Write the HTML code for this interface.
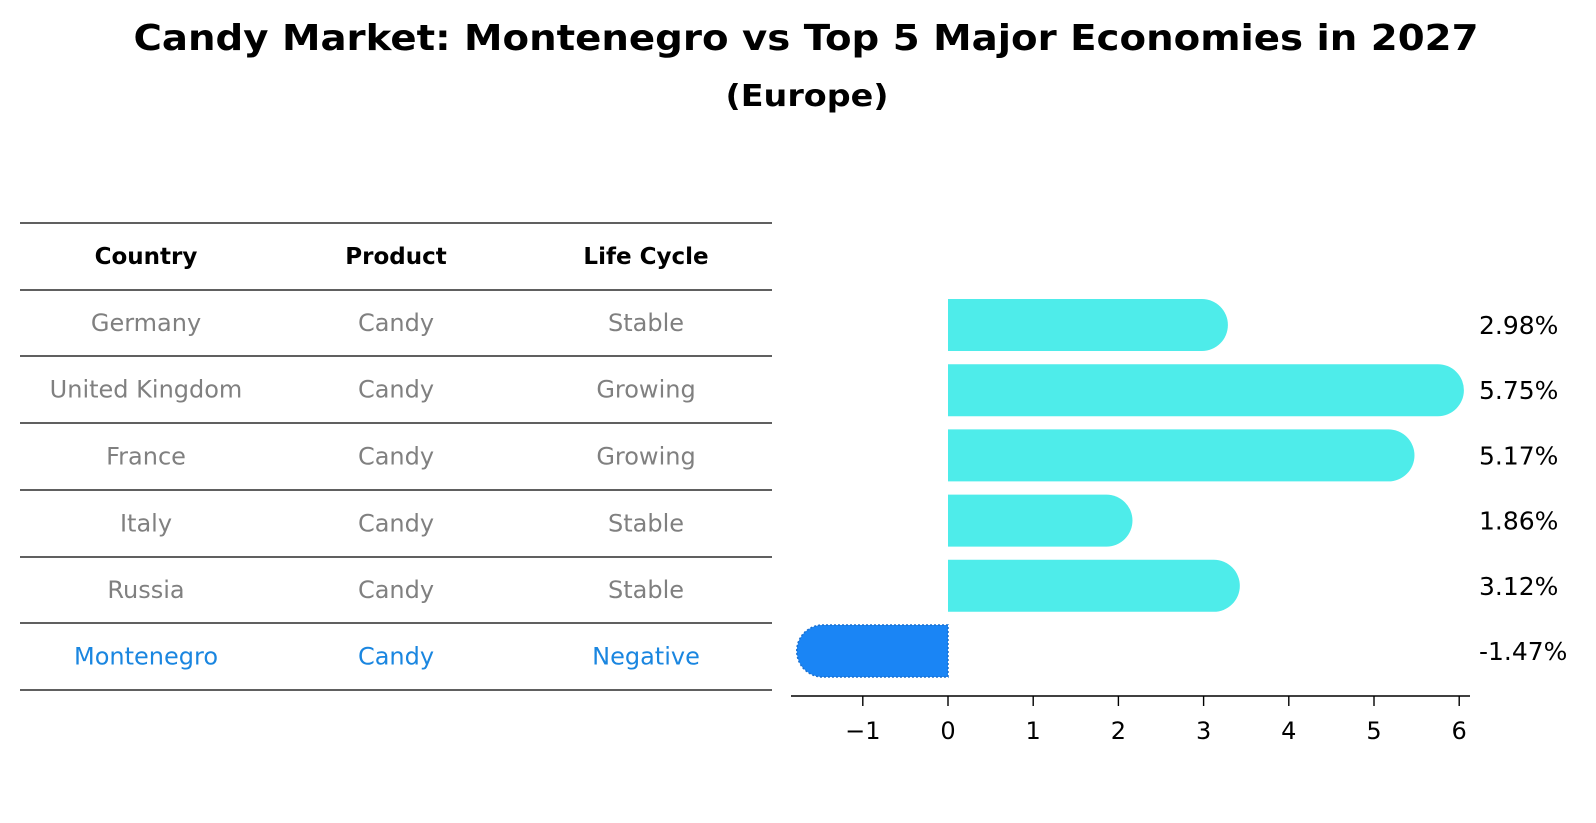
<!DOCTYPE html>
<html><head><meta charset="utf-8"><style>
html,body{margin:0;padding:0;background:#fff;}
svg{display:block;font-family:"DejaVu Sans","Liberation Sans",sans-serif;}
</style></head><body>
<svg id="chart" width="1596" height="823" viewBox="0 0 1596 823">
<text x="806" y="50" text-anchor="middle" font-size="36" font-weight="bold" textLength="1345" lengthAdjust="spacingAndGlyphs">Candy Market: Montenegro vs Top 5 Major Economies in 2027</text>
<text x="807" y="106" text-anchor="middle" font-size="30" font-weight="bold" textLength="163" lengthAdjust="spacingAndGlyphs">(Europe)</text>
<g id="table"></g>
<g id="bars"></g>
</svg>
<script>
const countries = ["Germany","United Kingdom","France","Italy","Russia","Montenegro"];
const products = ["Candy","Candy","Candy","Candy","Candy","Candy"];
const lifeCycles = ["Stable","Growing","Growing","Stable","Stable","Negative"];
const growthValues = [2.98,5.75,5.17,1.86,3.12,-1.47];
const valueLabels = ["2.98%","5.75%","5.17%","1.86%","3.12%","-1.47%"];
const xTicks = [-1,0,1,2,3,4,5,6];
const headers = ["Country","Product","Life Cycle"];

const NS="http://www.w3.org/2000/svg";
function mk(tag,attrs,parent){const e=document.createElementNS(NS,tag);for(const k in attrs)e.setAttribute(k,attrs[k]);parent.appendChild(e);return e;}

const tbl=document.getElementById('table');
const lineYs=[223,290,356,423,490,557,623,690];
const colX=[146,396,646];
lineYs.forEach((y,i)=>{const l=mk('line',{x1:20,x2:772,y1:y,y2:y,stroke:'#000','stroke-width':1.3},tbl);

});
headers.forEach((h,j)=>{const t=mk('text',{x:colX[j],y:264,'text-anchor':'middle','font-size':23,'font-weight':'bold'},tbl);t.textContent=h;

});
countries.forEach((c,i)=>{
  const y=(lineYs[i+1]+lineYs[i+2])/2+8;
  const col=i===countries.length-1?'#1a86e0':'#808080';
  [c,products[i],lifeCycles[i]].forEach((v,j)=>{
    const t=mk('text',{x:colX[j],y:y,'text-anchor':'middle','font-size':24,fill:col},tbl);t.textContent=v;
    
    
  });
});

const g=document.getElementById('bars');
const x0=948, unit=85.2;
function xs(v){return x0+v*unit;}
const rowY0=325, rowStep=65.2, barH=52, r=26;
function ys(i){return rowY0+i*rowStep;}
growthValues.forEach((v,i)=>{
  const cy=ys(i), top=cy-barH/2;
  const xe=xs(v);
  const neg=v<0;
  const col=neg?'#1a85f5':'#4eecea';
  let d;
  if(!neg){d=`M${x0},${top} L${xe},${top} A${r},${r} 0 0 1 ${xe},${top+barH} L${x0},${top+barH} Z`;}
  else{d=`M${x0},${top} L${xe},${top} A${r},${r} 0 0 0 ${xe},${top+barH} L${x0},${top+barH} Z`;}
  const p=mk('path',{d:d,fill:col},g);
  if(neg){p.setAttribute('stroke','#1a70d0');p.setAttribute('stroke-width','1.5');p.setAttribute('stroke-dasharray','2,2');}
  
  
  const t=mk('text',{x:1479,y:cy+9,'font-size':25},g);t.textContent=valueLabels[i];
  
  
});
const ax=mk('line',{x1:791,x2:1470,y1:696,y2:696,stroke:'#000','stroke-width':1.6},g);


xTicks.forEach(v=>{
  const tk=mk('line',{x1:xs(v),x2:xs(v),y1:696,y2:706,stroke:'#000','stroke-width':1.4},g);
  
  
  const t=mk('text',{x:xs(v),y:739,'text-anchor':'middle','font-size':24},g);
  t.textContent=v<0?'\u2212'+Math.abs(v):String(v);
  
  
});
</script>
</body></html>
